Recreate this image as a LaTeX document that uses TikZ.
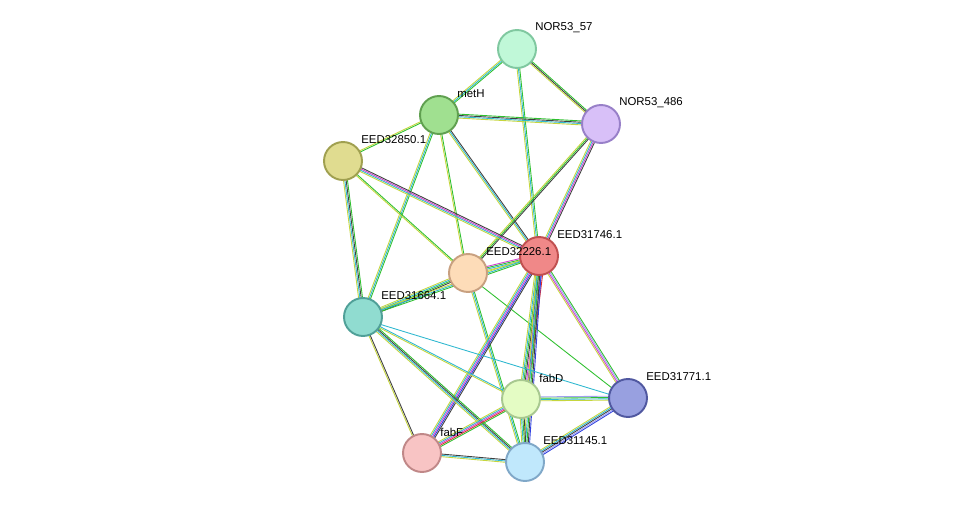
\documentclass[tikz,border=0pt]{standalone}
\usepackage{fontspec}
\setmainfont{Liberation Sans}
\usetikzlibrary{calc,backgrounds}
\definecolor{tm}{HTML}{C6D63E}
\definecolor{db}{HTML}{30B8D0}
\definecolor{nb}{HTML}{30C030}
\definecolor{co}{HTML}{404040}
\definecolor{ex}{HTML}{D040D0}
\definecolor{oc}{HTML}{3040E0}
\definecolor{ho}{HTML}{A0A0F0}
\definecolor{fu}{HTML}{E03030}
\tikzset{
  prot/.style={circle,minimum size=0.76cm,inner sep=0pt,line width=1.1pt},
  lab/.style={anchor=west,font=\fontsize{6.5}{8}\selectfont,inner sep=0pt}
}
\newcommand\sedge[3]{%
  \foreach \c [count=\i] in {#3} {%
    \pgfmathsetmacro\off{(\i-2.5)*0.75}%
    \draw[\c,line width=0.5pt] ($(#1.center)!\off pt!90:(#2.center)$) -- ($(#2.center)!\off pt!-90:(#1.center)$);
  }}
\newcommand\protn[6]{\definecolor{tmpf}{HTML}{#4}\definecolor{tmpd}{HTML}{#5}%
  \node[prot,fill=tmpf,draw=tmpd] (#1) at (#2,#3) {};
  \node[lab] (#1l) at ($(#1.center)+(18,-21)$) {\detokenize{#6}};}
\begin{document}
\begin{tikzpicture}[x=0.02cm,y=-0.02cm]
\useasboundingbox (0,0) rectangle (975,507);
\protn{nA}{517}{49}{C0F8D8}{80C8A0}{NOR53_57}
\protn{metH}{439}{115}{A0E090}{60A050}{metH}
\protn{nB}{601}{124}{D8C0F8}{9880C8}{NOR53_486}
\protn{e850}{343}{161}{E0DC90}{A0A050}{EED32850.1}
\protn{e746}{539}{256}{F08888}{C05050}{EED31746.1}
\protn{e226}{468}{273}{FDDCB8}{C8A080}{EED32226.1}
\protn{e664}{363}{317}{90DCD0}{50A098}{EED31664.1}
\protn{fabD}{521}{399}{E4FCC4}{A8C890}{fabD}
\protn{e771}{628}{398}{98A0E0}{5058A0}{EED31771.1}
\protn{fabF}{422}{453}{F8C4C4}{C08888}{fabF}
\protn{e145}{525}{462}{C0E8FC}{80A8C8}{EED31145.1}
\begin{pgfonlayer}{background}
\sedge{nA}{metH}{tm,db,nb}
\sedge{nA}{nB}{tm,co,nb}
\sedge{nA}{e746}{tm,db,nb}
\sedge{metH}{nB}{tm,db,co,nb}
\sedge{metH}{e850}{tm,nb}
\sedge{metH}{e746}{tm,db,co}
\sedge{metH}{e226}{tm,nb}
\sedge{metH}{e664}{tm,db,nb}
\sedge{nB}{e746}{tm,db,ex,co}
\sedge{nB}{e226}{tm,nb,co}
\sedge{e850}{e746}{tm,db,ex,co}
\sedge{e850}{e226}{tm,nb}
\sedge{e850}{e664}{tm,db,co,nb}
\sedge{e226}{e746}{tm,db,nb,ex}
\sedge{e226}{e664}{tm,db,nb,co}
\sedge{e226}{e145}{tm,db,nb}
\sedge{e226}{e771}{nb}
\sedge{e746}{e664}{tm,db,nb}
\sedge{e746}{fabD}{tm,db,nb,co,ex,oc,fu}
\sedge{e746}{e771}{tm,ex,ho,nb}
\sedge{e746}{fabF}{tm,db,ex,oc,co}
\sedge{e746}{e145}{tm,db,nb,co,oc}
\sedge{e664}{fabD}{tm,db}
\sedge{e664}{e771}{db}
\sedge{e664}{fabF}{tm,co}
\sedge{e664}{e145}{tm,db,co,nb}
\sedge{fabD}{e771}{tm,db,nb,ho}
\sedge{fabD}{fabF}{tm,db,ex,fu,nb}
\sedge{fabD}{e145}{tm,db,nb,co}
\sedge{e771}{e145}{tm,db,co,ho,oc}
\sedge{fabF}{e145}{tm,db,co}
\end{pgfonlayer}
\end{tikzpicture}
\end{document}
